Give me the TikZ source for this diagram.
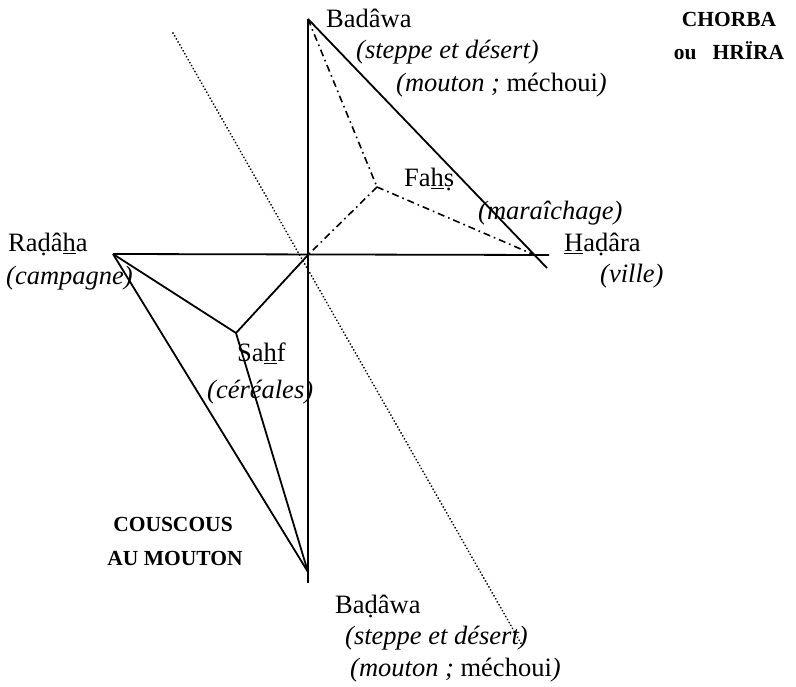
\documentclass[tikz,border=0pt]{standalone}
\usepackage{fontspec}
\setmainfont{Liberation Serif}
\begin{document}
\begin{tikzpicture}[x=1pt,y=-1pt,
  lbl/.style={anchor=base west,inner sep=0pt,font=\fontsize{26.5}{30}\selectfont},
  blbl/.style={anchor=base,inner sep=0pt,font=\fontsize{21.5}{24}\selectfont\bfseries},
  solidline/.style={line width=1.8pt},
  dashdotline/.style={line width=1.6pt,dash pattern=on 7pt off 4pt on 1.6pt off 4pt},
  dotline/.style={line width=2pt,dash pattern=on 0.01pt off 3.4pt,line cap=round}]
\useasboundingbox (0,0) rectangle (796,687);
% points
\coordinate (T) at (308,19);
\coordinate (B) at (308,583);
\coordinate (Bv) at (308,572);
\coordinate (O) at (308,255);
\coordinate (L) at (113,254);
\coordinate (R) at (549,255);
\coordinate (D) at (547,268);
\coordinate (F) at (377,187);
\coordinate (S) at (236,333);
\coordinate (P1) at (173,33);
\coordinate (P2) at (522,645);
\coordinate (X) at (intersection of T--D and L--R);
% solid lines
\draw[solidline] (T) -- (B);
\draw[solidline] (L) -- (R);
\draw[solidline] (T) -- (D);
\draw[solidline] (L) -- (Bv);
\draw[solidline] (L) -- (S);
\draw[solidline] (S) -- (O);
\draw[solidline] (S) -- (Bv);
% dash-dot
\draw[dashdotline] (T) -- (F);
\draw[dashdotline] (F) -- (O);
\draw[dashdotline] (F) -- (X);
% dotted
\draw[dotline] (P1) -- (P2);
% labels
\node[lbl] (badT) at (326,28) {Badâwa};
\node[lbl] (badT2) at (356,59) {\itshape (steppe et désert)};
\node[lbl] (badT3) at (396,92) {\itshape (mouton ; \upshape méchoui\itshape )};
\node[blbl] (chorba1) at (729,27) {CHORBA};
\node[blbl] (chorba2) at (729,60) {ou\ \ \ HRÏRA};
\node[lbl] (fahs) at (404,187) {Fa\underline{h}\d{s}};
\node[lbl] (fahs2) at (478,220) {\itshape (maraîchage)};
\node[lbl] (had) at (564,252) {\underline{H}a\d{d}âra};
\node[lbl] (had2) at (600,283) {\itshape (ville)};
\node[lbl] (rad) at (8,252) {Ra\d{d}â\underline{h}a};
\node[lbl] (rad2) at (6,285) {\itshape (campagne)};
\node[lbl] (sahf) at (237,362) {Sa\underline{h}f};
\node[lbl] (sahf2) at (207,398) {\itshape (céréales)};
\node[blbl] (cous1) at (173,531) {COUSCOUS};
\node[blbl] (cous2) at (175,565) {AU MOUTON};
\node[lbl] (badB) at (335,613) {Ba\d{d}âwa};
\node[lbl] (badB2) at (345,644) {\itshape (steppe et désert)};
\node[lbl] (badB3) at (350,676) {\itshape (mouton ; \upshape méchoui\itshape )};
\end{tikzpicture}
\end{document}
